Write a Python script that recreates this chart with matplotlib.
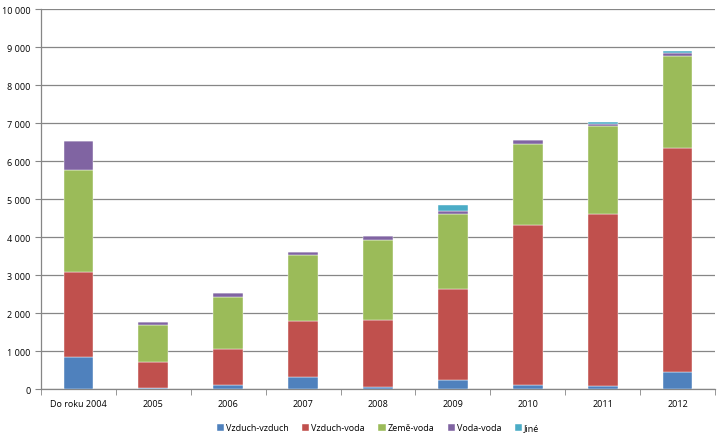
import numpy as np
import matplotlib
matplotlib.use("Agg")
import matplotlib.pyplot as plt
from matplotlib.ticker import FuncFormatter, MultipleLocator, FixedLocator

plt.rcParams['font.family'] = ['Open Sans', 'DejaVu Sans']

kategorie = ["Do roku 2004", "2005", "2006", "2007", "2008", "2009", "2010", "2011", "2012"]
vzduch_vzduch = [850, 30, 105, 325, 45, 245, 113, 90, 440]
vzduch_voda = [2240, 690, 955, 1475, 1770, 2395, 4210, 4525, 5910]
zeme_voda = [2680, 965, 1370, 1735, 2115, 1955, 2130, 2300, 2420]
voda_voda = [755, 70, 90, 60, 90, 80, 90, 70, 80]
jine = [0, 0, 0, 0, 0, 175, 0, 35, 35]

serie = [
    ("Vzduch-vzduch", vzduch_vzduch, "#4F81BD"),
    ("Vzduch-voda", vzduch_voda, "#C0504D"),
    ("Země-voda", zeme_voda, "#9BBB59"),
    ("Voda-voda", voda_voda, "#8064A2"),
    ("Jiné", jine, "#4BACC6"),
]

fig = plt.figure(figsize=(7.2, 4.35), dpi=100)
ax = fig.add_axes([0.057, 0.1034, 0.936, 0.8736])

x = np.arange(len(kategorie))
spodek = np.zeros(len(kategorie))
for nazev, hodnoty, barva in serie:
    ax.bar(x, hodnoty, bottom=spodek, width=0.4, color=barva, label=nazev,
           edgecolor="white", linewidth=0.3, zorder=3)
    spodek += np.array(hodnoty)

ax.set_xlim(-0.5, len(kategorie) - 0.5)
ax.set_ylim(0, 10000)
ax.yaxis.set_major_locator(MultipleLocator(1000))
ax.yaxis.set_major_formatter(FuncFormatter(lambda v, p: f"{int(v):,}".replace(",", " ")))
ax.grid(axis="y", color="#868686", linewidth=0.9, zorder=0)

ax.set_xticks(x)
ax.set_xticklabels(kategorie)
ax.xaxis.set_minor_locator(FixedLocator(np.arange(-0.5, len(kategorie), 1.0)))
ax.tick_params(axis="x", which="major", length=0, labelsize=6.5, pad=7)
ax.tick_params(axis="x", which="minor", length=4, color="#868686", direction="out")
ax.tick_params(axis="y", length=4, color="#868686", labelsize=6.5, direction="out")

for s in ["top", "right"]:
    ax.spines[s].set_visible(False)
for s in ["left", "bottom"]:
    ax.spines[s].set_color("#868686")
    ax.spines[s].set_linewidth(0.9)

ax.legend(loc="lower center", bbox_to_anchor=(0.5, -0.135), ncol=5, frameon=False,
          fontsize=6.5, handlelength=0.8, handleheight=0.8, handletextpad=0.2,
          columnspacing=1.5)

fig.savefig("out.png", dpi=100)
